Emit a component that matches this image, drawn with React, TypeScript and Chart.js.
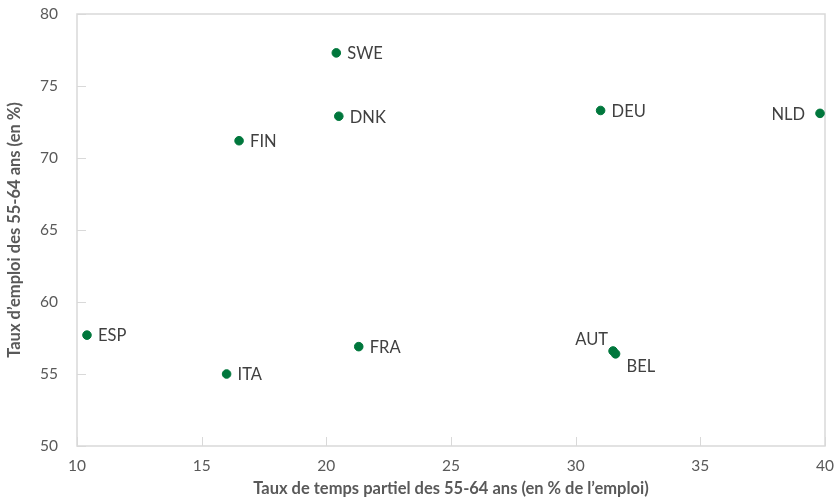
import React, { useEffect, useRef } from "react";
import { Chart, registerables } from "chart.js";

Chart.register(...registerables);

const countries = ["SWE", "DNK", "FIN", "DEU", "NLD", "ESP", "ITA", "FRA", "AUT", "BEL"];
const partTime = [20.4, 20.5, 16.5, 31.0, 39.8, 10.4, 16.0, 21.3, 31.5, 31.6];
const employment = [77.3, 72.9, 71.2, 73.3, 73.1, 57.7, 55.0, 56.9, 56.6, 56.4];
// label placement: r = right, l = left, al = above-left, br = below-right
const labelPos = ["r", "r", "r", "r", "l", "r", "r", "r", "al", "br"];
const xTicks = [10, 15, 20, 25, 30, 35, 40];
const yTicks = [50, 55, 60, 65, 70, 75, 80];

const FONT = "Lato, 'Open Sans', sans-serif";
const GREEN = "#00773C";
const BORDER = "#D9D9D9";

const frameAndLabels = {
  id: "frameAndLabels",
  beforeDatasetsDraw(chart: any) {
    const { ctx, chartArea } = chart;
    const xs = chart.scales.x;
    const ys = chart.scales.y;
    ctx.save();
    ctx.strokeStyle = BORDER;
    ctx.lineWidth = 1.5;
    ctx.strokeRect(chartArea.left, chartArea.top, chartArea.right - chartArea.left, chartArea.bottom - chartArea.top);
    ctx.lineWidth = 1;
    ctx.beginPath();
    for (const t of xTicks) {
      const px = Math.round(xs.getPixelForValue(t)) + 0.5;
      ctx.moveTo(px, chartArea.bottom);
      ctx.lineTo(px, chartArea.bottom - 9);
    }
    for (const t of yTicks) {
      const py = Math.round(ys.getPixelForValue(t)) + 0.5;
      ctx.moveTo(chartArea.left, py);
      ctx.lineTo(chartArea.left + 9, py);
    }
    ctx.stroke();
    ctx.restore();
  },
  afterDatasetsDraw(chart: any) {
    const { ctx } = chart;
    const meta = chart.getDatasetMeta(0);
    ctx.save();
    ctx.font = `16.5px ${FONT}`;
    ctx.fillStyle = "#404040";
    meta.data.forEach((pt: any, i: number) => {
      const pos = labelPos[i];
      const text = countries[i];
      let x = pt.x;
      let y = pt.y;
      ctx.textBaseline = "middle";
      if (pos === "r") {
        ctx.textAlign = "left";
        x += 11;
      } else if (pos === "l") {
        ctx.textAlign = "right";
        x -= 15;
      } else if (pos === "al") {
        ctx.textAlign = "right";
        x -= 5;
        y -= 12;
      } else if (pos === "br") {
        ctx.textAlign = "left";
        x += 11;
        y += 12;
      }
      ctx.fillText(text, x, y + 1);
    });
    ctx.restore();
  },
};

export default function App() {
  const ref = useRef<HTMLCanvasElement>(null);
  useEffect(() => {
    document.body.style.margin = "0";
    const chart = new Chart(ref.current!, {
      type: "scatter",
      data: {
        datasets: [
          {
            data: partTime.map((x, i) => ({ x, y: employment[i] })),
            backgroundColor: GREEN,
            borderColor: GREEN,
            pointRadius: 4.3,
            pointHoverRadius: 4.3,
          },
        ],
      },
      options: {
        animation: false,
        responsive: false,
        layout: { padding: { top: 14, right: 15, left: 0, bottom: 0 } },
        plugins: { legend: { display: false }, tooltip: { enabled: false } },
        scales: {
          x: {
            type: "linear",
            min: 10,
            max: 40,
            afterBuildTicks: (s: any) => {
              s.ticks = xTicks.map((v) => ({ value: v }));
            },
            afterFit: (s: any) => {
              s.height = 57;
              s.paddingLeft = 0;
              s.paddingRight = 0;
            },
            grid: { display: false, drawTicks: false },
            border: { display: false },
            ticks: { color: "#595959", font: { family: FONT, size: 15.5 }, padding: 11 },
            title: {
              display: true,
              text: "Taux de temps partiel des 55-64 ans (en % de l’emploi)",
              color: "#595959",
              font: { family: FONT, size: 16.5, weight: "bold" },
              padding: { top: 0, bottom: 4 },
            },
          },
          y: {
            type: "linear",
            min: 50,
            max: 80,
            afterBuildTicks: (s: any) => {
              s.ticks = yTicks.map((v) => ({ value: v }));
            },
            afterFit: (s: any) => {
              s.width = 77;
              s.paddingTop = 0;
              s.paddingBottom = 0;
            },
            grid: { display: false, drawTicks: false },
            border: { display: false },
            ticks: { color: "#595959", font: { family: FONT, size: 15.5 }, padding: 19 },
            title: {
              display: true,
              text: "Taux d’emploi des 55-64 ans (en %)",
              color: "#595959",
              font: { family: FONT, size: 16.5, weight: "bold" },
              padding: { top: 5, bottom: 0 },
            },
          },
        },
      },
      plugins: [frameAndLabels],
    });
    return () => chart.destroy();
  }, []);
  return (
    <div style={{ position: "absolute", left: 0, top: 0, width: 840, height: 503 }}>
      <canvas ref={ref} width={840} height={503} style={{ width: 840, height: 503 }} />
    </div>
  );
}
